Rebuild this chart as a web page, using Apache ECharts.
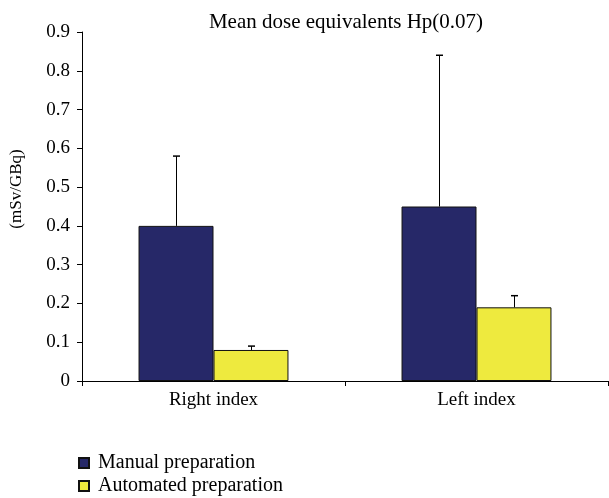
<!DOCTYPE html>
<html>
<head>
<meta charset="utf-8">
<script src="https://cdn.jsdelivr.net/npm/echarts@6/dist/echarts.min.js"></script>
<style>html,body{margin:0;padding:0;background:#fff;}#c{width:609px;height:498px;}</style>
</head>
<body>
<div id="c"></div>
<script>
const categories = ['Right index', 'Left index'];
const manualValues = [0.40, 0.45];
const automatedValues = [0.08, 0.19];
const manualUpper = [0.58, 0.84];
const automatedUpper = [0.09, 0.22];
const yTicks = [0, 0.1, 0.2, 0.3, 0.4, 0.5, 0.6, 0.7, 0.8, 0.9];

const FONT = 'Liberation Serif';
const GAP = 0.43;

function errSeries(values, upper, side) {
  return {
    type: 'custom',
    data: values.map((v, i) => [i, v, upper[i]]),
    z: 5,
    renderItem: function (params, api) {
      const i = api.value(0);
      const base = api.coord([i, api.value(1)]);
      const top = api.coord([i, api.value(2)]);
      const band = api.size([1, 0])[0];
      const bw = band * (1 - GAP) / 2;
      const x = Math.round(base[0] + side * bw / 2) + 0.5;
      const cap = 3.5;
      return {
        type: 'group',
        children: [
          { type: 'line', shape: { x1: x, y1: base[1], x2: x, y2: top[1] }, style: { stroke: '#000', lineWidth: 1 } },
          { type: 'line', shape: { x1: x - cap, y1: top[1], x2: x + cap, y2: top[1] }, style: { stroke: '#000', lineWidth: 1.5 } }
        ]
      };
    },
    silent: true,
    tooltip: { show: false }
  };
}

const chart = echarts.init(document.getElementById('c'), null, { renderer: 'canvas' });
chart.setOption({
  animation: false,
  backgroundColor: '#fff',
  textStyle: { fontFamily: FONT },
  title: {
    text: 'Mean dose equivalents Hp(0.07)',
    left: 341, top: 7, textAlign: 'center',
    textStyle: { fontFamily: FONT, fontSize: 21, fontWeight: 'normal', color: '#000' }
  },
  graphic: [{
    type: 'text',
    x: 17, y: 189,
    rotation: Math.PI / 2,
    style: {
      text: '(mSv/GBq)',
      fontFamily: FONT, fontSize: 17, fill: '#000',
      align: 'center', verticalAlign: 'middle'
    }
  }],
  legend: {
    orient: 'vertical',
    left: 78, top: 453,
    padding: 0,
    itemWidth: 10, itemHeight: 10, itemGap: 3,
    icon: 'rect',
    textStyle: { fontFamily: FONT, fontSize: 20, color: '#000', padding: [0, 0, 0, 4] },
    data: ['Manual preparation', 'Automated preparation']
  },
  grid: { left: 82, right: 1, top: 32, bottom: 117 },
  xAxis: {
    type: 'category',
    data: categories,
    axisLine: { lineStyle: { color: '#000', width: 1 } },
    axisTick: { show: true, length: 5, lineStyle: { color: '#000' } },
    axisLabel: { fontFamily: FONT, fontSize: 19, color: '#000', margin: 10 }
  },
  yAxis: {
    type: 'value',
    min: 0, max: 0.9, interval: 0.1,
    axisLine: { show: true, lineStyle: { color: '#000', width: 1 } },
    axisTick: { show: true, length: 5, lineStyle: { color: '#000' } },
    splitLine: { show: false },
    axisLabel: {
      fontFamily: FONT, fontSize: 19, color: '#000', margin: 12,
      formatter: function (v) {
        const t = yTicks.find(x => Math.abs(x - v) < 1e-9);
        return t === undefined ? '' : String(t);
      }
    }
  },
  series: [
    {
      name: 'Manual preparation', type: 'bar', data: manualValues,
      barGap: '0%', barCategoryGap: (GAP * 100) + '%',
      itemStyle: { color: '#262868', borderColor: '#111', borderWidth: 1 }
    },
    {
      name: 'Automated preparation', type: 'bar', data: automatedValues,
      barGap: '0%', barCategoryGap: (GAP * 100) + '%',
      itemStyle: { color: '#eeea3e', borderColor: '#111', borderWidth: 1 }
    },
    errSeries(manualValues, manualUpper, -1),
    errSeries(automatedValues, automatedUpper, 1)
  ]
});
</script>
</body>
</html>
